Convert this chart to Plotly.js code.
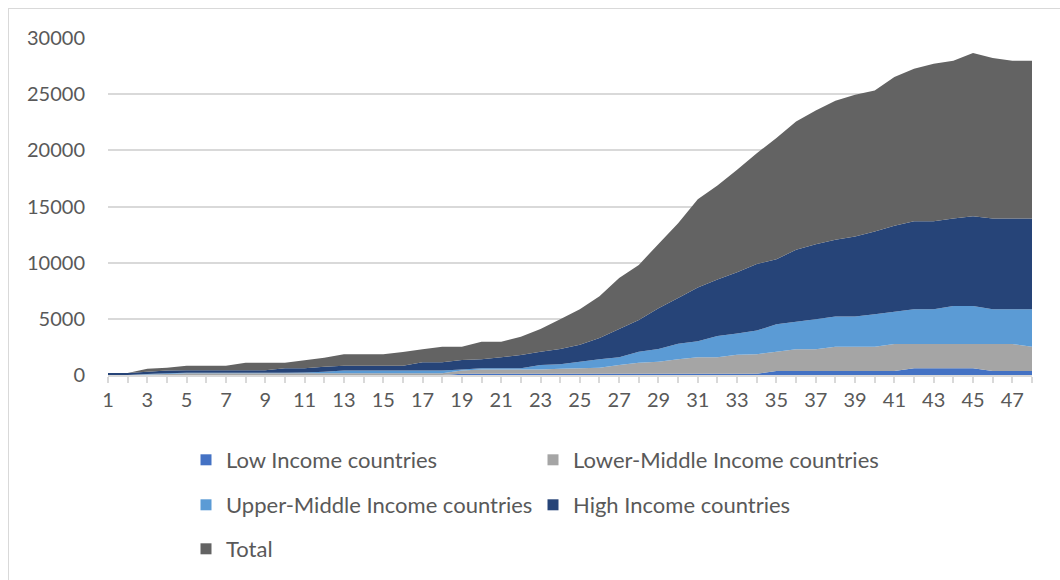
<!DOCTYPE html>
<html>
<head>
<meta charset="utf-8">
<script src="https://cdn.plot.ly/plotly-3.0.1.min.js"></script>
<style>
  html, body { margin: 0; padding: 0; background: #ffffff; }
  #wrap { position: relative; width: 1060px; height: 580px; overflow: hidden; }
  #chart { position: absolute; left: 0; top: 0; width: 1060px; height: 580px; }
  #frame { position: absolute; left: 8px; top: 8px; width: 1060px; height: 600px;
           border: 1px solid #d9d9d9; box-sizing: border-box; pointer-events: none; }
</style>
</head>
<body>
<div id="wrap">
  <div id="chart"></div>
  <div id="frame"></div>
</div>
<script>
// Categories 1..48
const categories = [1,2,3,4,5,6,7,8,9,10,11,12,13,14,15,16,17,18,19,20,21,22,23,24,
                    25,26,27,28,29,30,31,32,33,34,35,36,37,38,39,40,41,42,43,44,45,46,47,48];

const lowIncome = [0,0,0,0,0,0,0,0,0,0,0,0,0,0,0,0,0,0,110,110,110,110,110,110,
                   110,110,110,110,110,110,110,110,110,120,360,360,360,360,360,360,360,600,600,600,600,360,360,360];

const lowerMiddle = [0,0,50,100,150,150,150,150,150,150,150,150,150,150,150,150,150,150,280,390,390,390,390,440,
                     480,540,780,990,1080,1290,1460,1460,1690,1720,1720,1930,1930,2160,2160,2160,2400,2160,2160,2160,2160,2400,2400,2160];

const upperMiddle = [0,0,50,50,50,50,50,50,50,50,70,150,240,240,240,240,240,240,110,90,90,90,390,400,
                     600,750,680,980,1130,1380,1430,1910,1900,2120,2430,2460,2670,2680,2680,2890,2880,3090,3090,3390,3390,3090,3090,3330];

const highIncome = [180,180,200,250,220,220,220,220,220,400,380,440,440,440,440,440,740,740,840,810,980,1190,1190,1370,
                    1510,1900,2530,2820,3620,4070,4800,5020,5450,5930,5800,6390,6680,6830,7130,7360,7640,7840,7840,7780,7990,8080,8080,8080];

const total = [0,0,260,250,410,410,410,680,680,500,710,800,1010,1010,1010,1220,1160,1390,1180,1570,1400,1630,2020,2640,
               3150,3700,4540,4900,5730,6650,7850,8370,9120,9860,10780,11430,11910,12380,12620,12560,13240,13570,14020,14050,14520,14290,14050,14050];

const seriesNames = ["Low Income countries", "Lower-Middle Income countries",
                     "Upper-Middle Income countries", "High Income countries", "Total"];
const seriesColors = ["#4472C4", "#A5A5A5", "#5B9BD5", "#264478", "#636363"];
const seriesValues = [lowIncome, lowerMiddle, upperMiddle, highIncome, total];
const legendGroups = ["legend", "legend", "legend2", "legend2", "legend3"];

const yTicks = [0, 5000, 10000, 15000, 20000, 25000, 30000];
const xTickLabels = [1,3,5,7,9,11,13,15,17,19,21,23,25,27,29,31,33,35,37,39,41,43,45,47];

const FONT = "Lato, 'Open Sans', sans-serif";

const traces = [];
seriesValues.forEach((vals, k) => {
  traces.push({
    type: "scatter",
    x: categories,
    y: vals,
    name: seriesNames[k],
    stackgroup: "one",
    mode: "none",
    fillcolor: seriesColors[k],
    line: { width: 0, color: seriesColors[k] },
    showlegend: false,
    hoverinfo: "x+y+name"
  });
});
// legend entries (square swatches like the original)
seriesValues.forEach((vals, k) => {
  traces.push({
    type: "scatter",
    x: [null],
    y: [null],
    name: seriesNames[k],
    mode: "markers",
    marker: { symbol: "square", size: 11, color: seriesColors[k] },
    legend: legendGroups[k],
    showlegend: true,
    hoverinfo: "skip"
  });
});

const legendBase = {
  orientation: "h",
  xref: "container",
  yref: "container",
  xanchor: "left",
  yanchor: "middle",
  x: 186 / 1060,
  traceorder: "normal",
  entrywidth: 302,
  entrywidthmode: "pixels",
  font: { family: FONT, size: 22, color: "#595959" },
  bgcolor: "rgba(0,0,0,0)",
  itemclick: false,
  itemdoubleclick: false
};

const layout = {
  width: 1060,
  height: 580,
  margin: { l: 108, r: 28, t: 38, b: 205, pad: 0 },
  paper_bgcolor: "#ffffff",
  plot_bgcolor: "#ffffff",
  font: { family: FONT, size: 20, color: "#595959" },
  showlegend: true,
  hovermode: "x unified",
  xaxis: {
    type: "linear",
    range: [1, 48],
    tickmode: "array",
    tickvals: xTickLabels,
    ticktext: xTickLabels.map(String),
    ticks: "outside",
    ticklen: 6,
    tickwidth: 1.5,
    tickcolor: "#D9D9D9",
    minor: { tickmode: "linear", tick0: 1, dtick: 1, ticks: "outside", ticklen: 6, tickwidth: 1.5, tickcolor: "#D9D9D9", showgrid: false },
    showgrid: false,
    zeroline: false,
    showline: true,
    linecolor: "#D9D9D9",
    linewidth: 1.5,
    tickfont: { family: FONT, size: 20, color: "#595959" },
    fixedrange: true
  },
  yaxis: {
    range: [0, 30000],
    tickmode: "array",
    tickvals: yTicks,
    ticktext: yTicks.map(String),
    ticks: "",
    ticklabelstandoff: 22,
    showgrid: true,
    gridcolor: "#D9D9D9",
    gridwidth: 2,
    zeroline: false,
    showline: false,
    tickfont: { family: FONT, size: 20, color: "#595959" },
    fixedrange: true
  },
  legend: Object.assign({}, legendBase, { y: 1 - 460 / 580 }),
  legend2: Object.assign({}, legendBase, { y: 1 - 505 / 580 }),
  legend3: Object.assign({}, legendBase, { y: 1 - 549 / 580 })
};

Plotly.newPlot("chart", traces, layout, { displayModeBar: false, responsive: false });
</script>
</body>
</html>
